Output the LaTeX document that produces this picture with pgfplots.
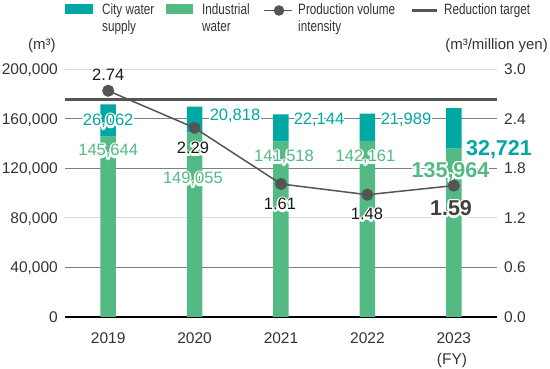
\documentclass[border=0pt]{standalone}
\usepackage{pgfplots}
\pgfplotsset{compat=1.18}
\usepackage{fontspec}
\setmainfont{Liberation Sans}
\newfontfamily\cond[FakeStretch=0.78]{Liberation Sans}
\def\halor{1.7}
\newcommand\halocopies[1]{\makebox[0pt][l]{\foreach \a in {0,22.5,...,337.5}{\pgfmathsetlengthmacro\dx{\halor*cos(\a)}\pgfmathsetlengthmacro\dy{\halor*sin(\a)}\makebox[0pt][l]{\hspace*{\dx}\raisebox{\dy}{#1}}}}\phantom{#1}}
\newcommand\lab[4]{\node[#1, text=white] at (axis cs:#2,#3) {\halocopies{#4}};\node[#1] at (axis cs:#2,#3) {#4};}
\definecolor{teal1}{RGB}{0,168,163}
\definecolor{green1}{RGB}{84,186,132}
\definecolor{line1}{RGB}{85,85,85}
\definecolor{txt}{RGB}{51,51,51}
\tikzset{
  lbl/.style={font=\fontsize{16.5}{18}\selectfont, inner sep=0pt, text depth=0pt, anchor=center},
  blbl/.style={font=\bfseries\fontsize{21.5}{23}\selectfont, inner sep=0pt, text depth=0pt, anchor=center},
}
\begin{document}
\begin{tikzpicture}[x=1pt,y=1pt]
\useasboundingbox (0,0) rectangle (550,369);
\begin{axis}[
  at={(65pt,52.2pt)}, anchor=south west,
  width=432pt, height=247.5pt, scale only axis,
  xmin=-0.5, xmax=4.5, ymin=0, ymax=200000,
  clip=false,
  axis x line*=bottom, axis y line*=left,
  x axis line style={black, line width=2pt, -},
  y axis line style={draw=none},
  ybar stacked, bar width=15.5pt,
  xtick={0,1,2,3,4}, xticklabels={2019,2020,2021,2022,2023},
  scaled y ticks=false,
  ytick={0,80000,200000},
  yticklabels={0,{80,000},{200,000}},
  extra y ticks={40000,120000,160000},
  extra y tick labels={{40,000},{120,000},{160,000}},
  extra y tick style={major grid style={color=black!50, line width=1pt}},
  ymajorgrids, major grid style={color=black!15, line width=1pt},
  major tick length=0pt,
  tick label style={font=\fontsize{15.5}{17}\selectfont, text=txt, inner sep=0pt},
  yticklabel style={anchor=east, xshift=-7pt, text depth=0pt},
  xticklabel style={anchor=base, yshift=-27pt},
]
\addplot[fill=green1, draw=none] coordinates {(0,145644)(1,149055)(2,141518)(3,142161)(4,135964)};
\addplot[fill=teal1, draw=none] coordinates {(0,26062)(1,20818)(2,22144)(3,21989)(4,32721)};
\end{axis}
\begin{axis}[
  at={(65pt,52.2pt)}, anchor=south west,
  width=432pt, height=247.5pt, scale only axis,
  xmin=-0.5, xmax=4.5, ymin=0, ymax=3,
  clip=false,
  axis x line=none, axis y line*=right,
  y axis line style={draw=none},
  ytick={0,0.6,1.2,1.8,2.4,3.0},
  yticklabels={0.0,0.6,1.2,1.8,2.4,3.0},
  major tick length=0pt,
  tick label style={font=\fontsize{15.5}{17}\selectfont, text=txt, inner sep=0pt},
  yticklabel style={anchor=west, xshift=7pt, text depth=0pt},
]
\addplot[color=line1, line width=2.7pt] coordinates {(-0.5,2.63)(4.5,2.63)};
\addplot[color=line1, line width=1.5pt, mark=*, mark size=5.3pt, mark options={fill=line1, draw=line1}] coordinates {(0,2.74)(1,2.29)(2,1.61)(3,1.48)(4,1.59)};
% bar value labels (positions on this right-hand scale: value/200000*3)
\lab{lbl, text=teal1}{0}{2.385}{26,062}
\lab{lbl, text=green1}{0}{2.022}{145,644}
\lab{lbl, text=teal1}{1.468}{2.446}{20,818}
\lab{lbl, text=green1}{0.98}{1.682}{149,055}
\lab{lbl, text=teal1}{2.44}{2.398}{22,144}
\lab{lbl, text=green1}{2.035}{1.949}{141,518}
\lab{lbl, text=teal1}{3.447}{2.398}{21,989}
\lab{lbl, text=green1}{2.978}{1.949}{142,161}
% intensity labels
\lab{lbl, text=black!90}{0}{2.931}{2.74}
\lab{lbl, text=black!90}{0.981}{2.046}{2.29}
\lab{lbl, text=black!90}{1.988}{1.367}{1.61}
\lab{lbl, text=black!90}{2.995}{1.246}{1.48}
\lab{blbl, text=black!75}{3.968}{1.319}{1.59}
\lab{blbl, text=teal1}{4.523}{2.044}{32,721}
\lab{blbl, text=green1}{3.962}{1.782}{135,964}
\end{axis}
% units and FY
\node[anchor=base west, inner sep=0pt, text=txt, font=\fontsize{15}{17}\selectfont] at (28,319) {(m³)};
\node[anchor=base east, inner sep=0pt, text=txt, font=\fontsize{15}{17}\selectfont] at (548,319) {(m³/million yen)};
\node[anchor=base, inner sep=0pt, text=txt, font=\fontsize{15.5}{17}\selectfont] at (452,4.7) {(FY)};
% legend
\fill[teal1] (65,355) rectangle (93,365);
\fill[green1] (166,355) rectangle (193,365);
\draw[line1, line width=1.5pt] (264,358.5) -- (292,358.5);
\fill[line1] (279,358.5) circle (5.3);
\draw[line1, line width=2.7pt] (412,358.5) -- (437,358.5);
\begin{scope}[every node/.style={anchor=base west, inner sep=0pt, text=txt, font=\cond\fontsize{15}{17}\selectfont}]
\node at (102,354) {City water};
\node at (102,337) {supply};
\node at (202,354) {Industrial};
\node at (202,337) {water};
\node at (298,354) {Production volume};
\node at (298,337) {intensity};
\node at (444,354) {Reduction target};
\end{scope}
\end{tikzpicture}
\end{document}
